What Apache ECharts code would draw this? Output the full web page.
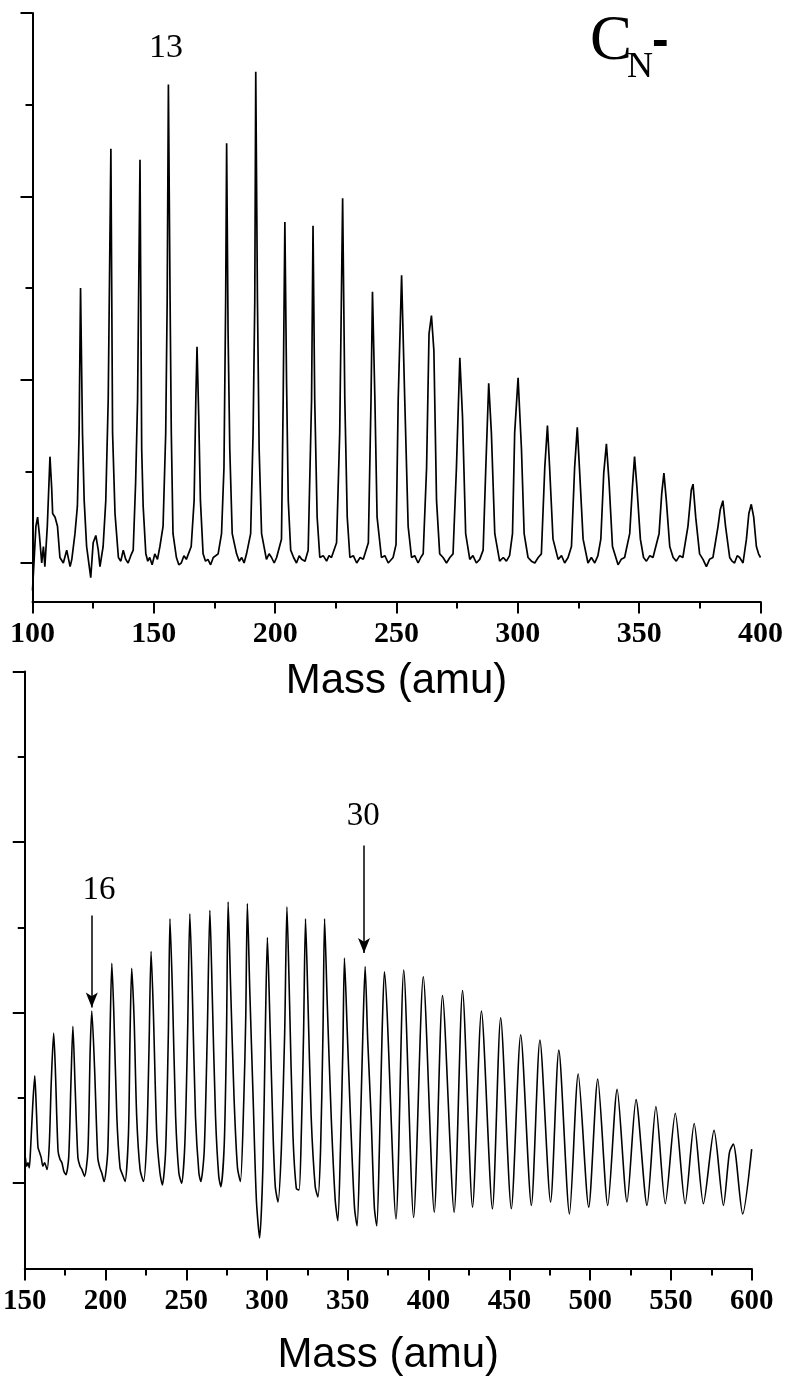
<!DOCTYPE html>
<html>
<head>
<meta charset="utf-8">
<script src="https://cdn.jsdelivr.net/npm/echarts@6/dist/echarts.min.js"></script>
<style>
html,body{margin:0;padding:0;background:#fff;}
#chart{width:786px;height:1391px;}
</style>
</head>
<body>
<div id="chart"></div>
<script>
// ---------- data ----------
// Upper spectrum: [mass (amu), intensity]
const topSpectrum = [
[100,-0.15],[100.4,-0.05],[101.4,0.2],[102.1,0.25],[102.8,0.16],[103.8,0],[104.5,0.09],[105.1,-0.02],[106.1,0.2],[107.2,0.58],[107.9,0.41],[108.3,0.27],[109.3,0.25],[110.3,0.2],[111.3,0.03],[112.7,0],[114.1,0.07],[115.5,-0.02],[116.2,0.02],[117.5,0.16],[118.5,0.31],[119.2,0.71],[119.8,1.5],[120.6,0.71],[121.3,0.34],[122.3,0.09],[123.4,-0.02],[124,-0.08],[125,0.11],[126.1,0.15],[127.1,0.07],[127.8,-0.02],[129.1,0.09],[130.2,0.34],[131.2,0.89],[132.3,2.26],[133,0.71],[134,0.27],[135.4,0.03],[136.4,0.01],[137.4,0.07],[138.4,0.02],[139.4,0],[140.5,0.04],[141.5,0.07],[142.5,0.44],[143.3,0.89],[144.3,2.2],[145,0.62],[145.6,0.31],[146.7,0.05],[147.5,0.01],[148.3,0.03],[149.3,-0.01],[150.4,0.05],[151.5,0.02],[152.5,0.09],[153.8,0.2],[154.9,0.71],[155.5,1.43],[156,2.61],[156.7,1.43],[157.2,0.71],[157.9,0.16],[159.3,0.03],[160.3,-0.01],[161.3,0],[162.4,0.04],[163.4,0.02],[165.4,0.09],[166.6,0.34],[167.3,0.89],[167.8,1.18],[168.5,0.8],[169.2,0.34],[170.3,0.05],[171.3,0.01],[172.3,0.02],[173.4,-0.01],[174.5,0.03],[176.5,0.05],[177.9,0.16],[178.9,0.52],[179.6,1.43],[180,2.29],[180.6,1.25],[181.3,0.62],[182.3,0.16],[184.1,0.05],[185.2,0.01],[186.2,0.03],[187.2,0],[188.2,0.05],[189.9,0.16],[190.9,0.71],[191.6,1.43],[192,2.68],[192.7,1.43],[193.4,0.62],[194.4,0.16],[196.4,0.02],[197.5,0.05],[198.5,0.03],[199.6,0],[200.6,0.03],[202.6,0.13],[203.3,0.89],[204,1.86],[204.7,0.98],[205.4,0.34],[206.4,0.07],[207.6,0.03],[208.8,0],[209.9,0.04],[210.9,0.02],[212.3,0.01],[213.6,0.07],[215,0.89],[215.6,1.84],[216.3,0.89],[217.3,0.25],[218.4,0.03],[219.8,0.04],[221.2,0.01],[222.2,0.04],[223.2,0.03],[225.3,0.11],[226.6,0.71],[227.8,1.99],[228.7,0.89],[229.7,0.25],[230.8,0.03],[232.2,0.04],[233.6,0],[235,0.03],[236.3,0.02],[238.4,0.11],[239.5,0.89],[240.1,1.48],[241.1,0.89],[242,0.25],[243.8,0.03],[245.2,0.04],[246.6,0],[248.6,0.03],[249.8,0.1],[250.7,0.89],[252.1,1.57],[253.4,0.89],[254.8,0.2],[256.2,0.03],[257.5,0.04],[258.9,0],[260,0.03],[261,0.05],[262.4,0.52],[263.4,1.25],[264.4,1.35],[265.4,1.16],[266.5,0.34],[267.8,0.05],[269.2,0.03],[270.6,0],[272,0.03],[273.3,0.05],[274.7,0.52],[276.1,1.12],[277.2,0.8],[278.5,0.16],[280.2,0.02],[281.5,0.04],[282.9,0],[284.3,0.02],[285.7,0.07],[286.8,0.52],[288,0.98],[289.1,0.71],[290.5,0.16],[292.5,0.01],[294,0.03],[295.3,0.01],[296.6,0.04],[297.8,0.16],[298.7,0.71],[300.1,1.01],[301.5,0.62],[302.6,0.16],[304.2,0.03],[305.6,0.01],[307,0],[308.4,0.03],[309.7,0.05],[311.1,0.52],[312.2,0.75],[313.1,0.52],[314.5,0.13],[316.6,0.02],[318,0.04],[319.3,0],[320.7,0.03],[322.1,0.09],[323.4,0.52],[324.5,0.74],[325.5,0.49],[326.9,0.13],[328.9,0],[330.3,0.03],[331.7,0],[333,0.04],[334.2,0.13],[335.4,0.49],[336.5,0.65],[337.6,0.44],[339,0.09],[341.3,-0.01],[342.6,0.02],[344,0.03],[346.1,0.16],[347.2,0.41],[348.1,0.58],[349.1,0.41],[350.5,0.13],[351.8,0.03],[353,0.01],[354.4,0.04],[355.7,0.03],[358.2,0.16],[359.3,0.38],[360.2,0.49],[361.2,0.34],[362.6,0.09],[364,0.03],[365.3,0.01],[366.7,0.04],[368,0.03],[370.1,0.2],[371.5,0.4],[372.2,0.43],[373.3,0.25],[374.9,0.05],[376.3,0.02],[377.7,-0.02],[379,0.02],[380.4,0.03],[382.5,0.2],[383.4,0.29],[384.5,0.34],[385.6,0.2],[387.3,0.03],[388.3,0.01],[389.3,0],[390.4,0.04],[391.4,0.03],[392.8,0],[394.2,0.13],[395.2,0.27],[396.2,0.32],[397.2,0.25],[398.3,0.09],[399.2,0.05],[400,0.03]
];
// Lower spectrum: [mass (amu), intensity]
const bottomSpectrum = [
[150.4,0.15],[151.2,0.1],[152,0.12],[152.8,0.09],[153.5,0.18],[154.9,0.45],[156.2,0.63],[157.2,0.43],[158.2,0.21],[159.2,0.18],[160.2,0.15],[161.2,0.1],[162.3,0.12],[163.8,0.08],[165.2,0.23],[166.4,0.59],[167.9,0.88],[168.9,0.68],[170.6,0.19],[171.8,0.14],[173,0.12],[174.2,0.07],[175.5,0.05],[177.2,0.15],[178.6,0.59],[179.8,0.92],[181.2,0.56],[182.9,0.15],[184.2,0.1],[185.4,0.08],[187,0.04],[189.1,0.19],[190.5,0.78],[191.5,1.01],[193.2,0.68],[195.2,0.15],[196.5,0.09],[197.7,0.06],[199.1,0.01],[201.4,0.19],[202.8,0.88],[203.9,1.29],[205.1,1.01],[207,0.39],[209,0.09],[210.5,0.05],[212.1,0.01],[214.2,0.29],[215.2,0.88],[216.2,1.26],[217.7,0.96],[219.3,0.39],[221.4,0.08],[223.5,0.01],[225.5,0.25],[226.9,0.78],[228.2,1.36],[229.6,1.01],[231.7,0.29],[233.7,0.06],[235.2,-0.01],[237.2,0.19],[238.9,0.88],[239.9,1.55],[241.4,1.13],[243.4,0.39],[245.4,0.06],[247.1,0],[249.1,0.23],[250.8,0.88],[252.2,1.58],[253.7,1.13],[255.7,0.39],[257.8,0.06],[259,0.01],[261.1,0.19],[263,0.88],[264.6,1.6],[266,1.13],[268.1,0.39],[270.1,0.04],[271.4,-0.02],[273.5,0.23],[274.9,0.88],[275.9,1.65],[277.5,1.13],[279.6,0.49],[281.7,0.09],[283.5,0.01],[285.6,0.49],[286.8,0.97],[287.8,1.64],[289.3,1.13],[291.4,0.49],[293.4,-0.1],[295.4,-0.32],[297.4,0.09],[298.9,0.88],[300.2,1.44],[301.6,1.01],[303.7,0.29],[305.1,-0.02],[306.8,-0.11],[308.8,0.19],[310.9,0.88],[312.3,1.62],[313.9,1.07],[316,0.29],[318.1,-0.03],[319.8,-0.04],[321.2,0.29],[322.6,0.88],[323.8,1.55],[325.3,1.07],[327.3,0.39],[329.8,-0.02],[331.5,-0.08],[333.1,0.19],[334.6,0.88],[335.6,1.55],[337.2,1.07],[339.7,0.39],[342.2,-0.1],[343.8,-0.22],[345.4,0.19],[346.9,0.78],[347.9,1.32],[349.6,0.9],[351.6,0.39],[354.1,-0.14],[355.7,-0.25],[357.4,0.19],[359.3,0.88],[360.7,1.27],[362.3,0.84],[364.4,0.39],[366.4,-0.14],[367.9,-0.25],[369.5,0.19],[371.2,0.88],[372.6,1.24],[379.8,-0.21],[384.6,1.25],[390.7,-0.2],[396.7,1.21],[403.5,-0.17],[408.6,1.1],[415.8,-0.17],[421,1.13],[427.2,-0.14],[432.7,1.01],[439.5,-0.15],[444.6,0.97],[451.2,-0.15],[457,0.87],[463.6,-0.13],[468.9,0.84],[475.5,-0.11],[480.6,0.78],[487.2,-0.18],[492.6,0.64],[499.1,-0.14],[504.7,0.61],[510.9,-0.13],[516.7,0.55],[522.8,-0.11],[528.4,0.49],[535.2,-0.13],[540.7,0.45],[546.5,-0.12],[552.7,0.41],[558.8,-0.12],[564.4,0.35],[570.1,-0.12],[576.7,0.31],[582.5,-0.13],[586.2,0.18],[588.6,0.23],[594.4,-0.18],[600,0.2]
];
// axis ranges / ticks
const topXRange = [100, 400];
const bottomXRange = [150, 600];
const topYRange = [-0.21, 3];
const bottomYRange = [-0.5, 3];
const yMajorTicks = [0, 1, 2, 3];
const yMinorTicks = [0.5, 1.5, 2.5];
const xLabelStep = 50;
const xAxisTitle = 'Mass (amu)';
// annotations
const topPeakLabel = {text: '13', at: [155, 2.81]};
const bottomPeakLabels = [{text: '16', at: [195.9, 1.72]}, {text: '30', at: [359.5, 2.15]}];
const bottomArrows = [[[191.5, 1.57], [191.5, 1.03]], [[360, 1.98], [360, 1.35]]];

// ---------- chart ----------
const chart = echarts.init(document.getElementById('chart'), null, {renderer: 'canvas'});
const black = '#000';
const serif = '"Liberation Serif", "Times New Roman", serif';
const sans = '"Liberation Sans", Arial, sans-serif';

function xAxis(grid, range, labelSize, labelMargin, nameGap) {
  return {
    gridIndex: grid, type: 'value', min: range[0], max: range[1], interval: xLabelStep,
    position: 'bottom',
    axisLine: {show: true, onZero: false, lineStyle: {color: black, width: 2}},
    axisTick: {show: true, length: 12, lineStyle: {color: black, width: 2}},
    minorTick: {show: true, splitNumber: 2, length: 7, lineStyle: {color: black, width: 2}},
    splitLine: {show: false}, minorSplitLine: {show: false},
    axisLabel: {color: black, fontFamily: serif, fontWeight: 'bold', fontSize: labelSize, margin: labelMargin, showMinLabel: true, showMaxLabel: true},
    name: xAxisTitle, nameLocation: 'middle', nameGap: nameGap,
    nameTextStyle: {color: black, fontFamily: sans, fontSize: 42}
  };
}
function yAxis(grid, range, ticks, len, line) {
  return {
    gridIndex: grid, type: 'value', min: range[0], max: range[1], position: 'left',
    axisLine: {show: line, onZero: false, lineStyle: {color: black, width: 2}},
    axisTick: {show: true, customValues: ticks, length: len, lineStyle: {color: black, width: 2}},
    axisLabel: {show: false}, splitLine: {show: false}
  };
}
function labelPoint(p, size) {
  return {
    coord: p.at, value: p.text, symbol: 'circle', symbolSize: 1,
    itemStyle: {color: 'rgba(0,0,0,0)'},
    label: {show: true, position: 'inside', formatter: p.text, color: black, fontFamily: serif, fontSize: size}
  };
}

const option = {
  animation: false,
  backgroundColor: '#fff',
  grid: [
    {left: 32.5, top: 13, width: 728.5, height: 588.5, containLabel: false},
    {left: 22.7, top: 671.5, width: 729, height: 597, containLabel: false}
  ],
  xAxis: [
    xAxis(0, topXRange, 30, 18, 59),
    xAxis(1, bottomXRange, 29, 19, 66)
  ],
  yAxis: [
    yAxis(0, topYRange, yMajorTicks, 12, true),
    yAxis(0, topYRange, yMinorTicks, 7, false),
    yAxis(1, bottomYRange, yMajorTicks, 12, true),
    yAxis(1, bottomYRange, yMinorTicks, 7, false)
  ],
  graphic: [
    {type: 'text', left: 590, top: 11, style: {text: 'C', font: '63px ' + serif, fill: black}},
    {type: 'text', left: 627, top: 50, style: {text: 'N', font: '36px ' + serif, fill: black}},
    {type: 'text', left: 652, top: 17, style: {text: '-', font: 'bold 50px ' + sans, fill: black}}
  ],
  series: [
    {
      type: 'line', xAxisIndex: 0, yAxisIndex: 0, data: topSpectrum,
      showSymbol: false, symbol: 'none', smooth: false,
      lineStyle: {color: black, width: 1.7}, silent: true,
      markPoint: {silent: true, data: [labelPoint(topPeakLabel, 34)]}
    },
    {
      type: 'line', xAxisIndex: 1, yAxisIndex: 2, data: bottomSpectrum,
      showSymbol: false, symbol: 'none', smooth: 0.25,
      lineStyle: {color: black, width: 1.6}, silent: true,
      markPoint: {silent: true, data: bottomPeakLabels.map(p => labelPoint(p, 33))},
      markLine: {
        silent: true, symbol: ['none', 'arrow'], symbolSize: [9, 15],
        lineStyle: {color: black, width: 1.5, type: 'solid'},
        label: {show: false},
        data: bottomArrows.map(a => [{coord: a[0]}, {coord: a[1]}])
      }
    }
  ]
};
chart.setOption(option);
</script>
</body>
</html>
